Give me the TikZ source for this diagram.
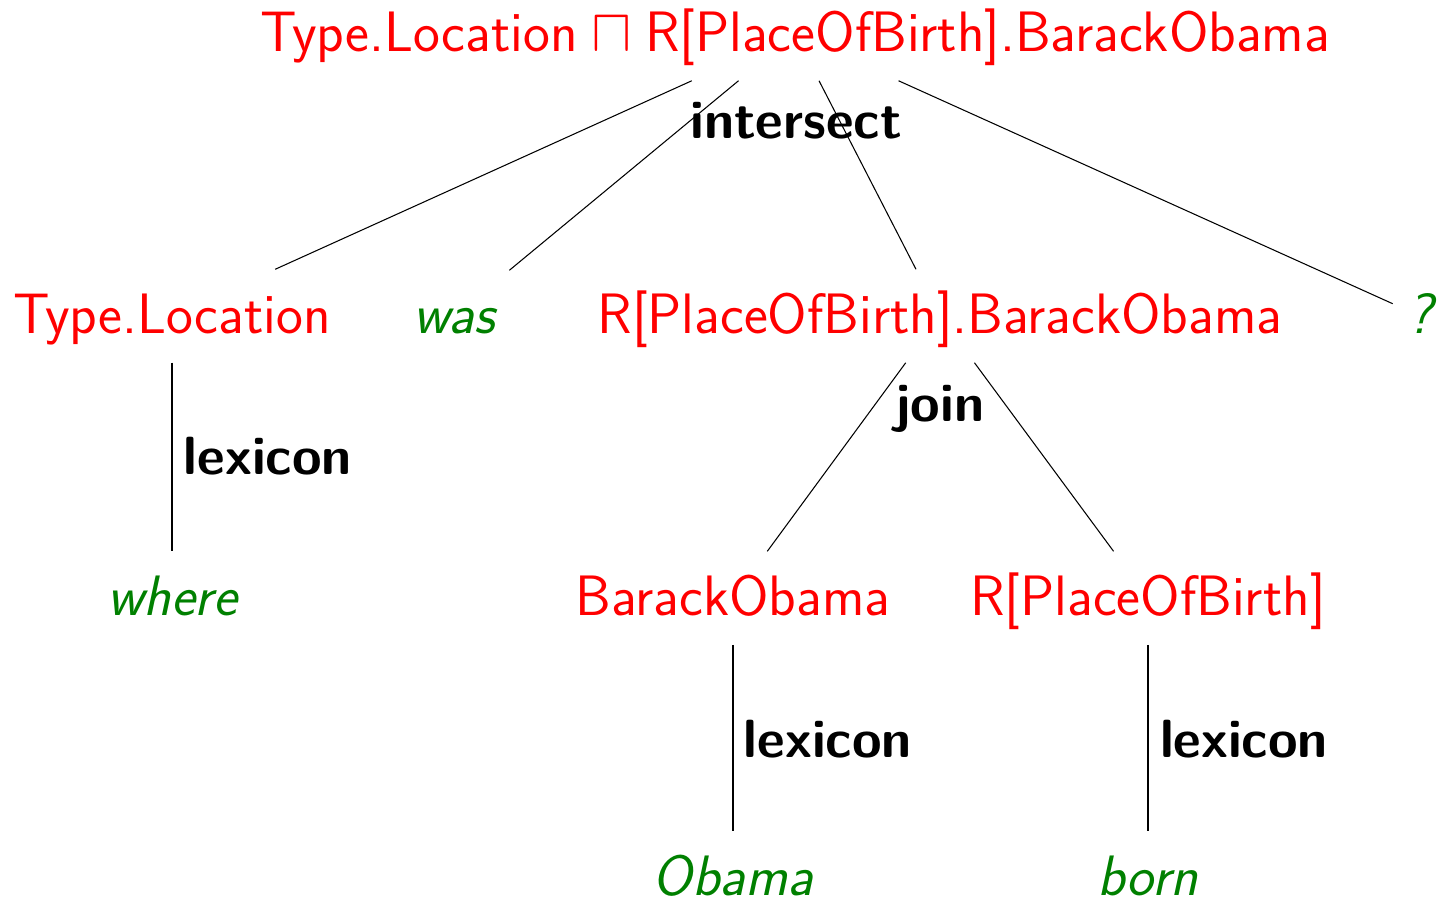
\documentclass[tikz,border=0pt]{standalone}
\usetikzlibrary{positioning}
\definecolor{logicred}{RGB}{255,0,0}
\definecolor{wordgreen}{RGB}{0,128,0}

\begin{document}
\begin{tikzpicture}[
            x=0.01cm, y=-0.01cm,
            formula/.style={font=\sffamily\fontsize{16.2}{19}\selectfont, text=logicred, text height=13pt, text depth=3pt, minimum height=0.92cm, inner xsep=0.14cm},
            word/.style={font=\sffamily\itshape\fontsize{16.2}{19}\selectfont, text=wordgreen, text height=13pt, text depth=3pt, minimum height=0.92cm, inner xsep=0.14cm},
            rulename/.style={font=\sffamily\bfseries\fontsize{15.3}{18}\selectfont, text height=13pt, text depth=3pt},
            link/.style={draw, line width=0.3pt}
            ]
            \useasboundingbox (0,0) rectangle (1437,902);

            % Root formula
            \node[formula] (root) at (795,34) {Type.Location${}\sqcap{}$R[PlaceOfBirth].BarackObama};
            \node[rulename] (intersect) at (796,121) {intersect};

            % Second level
            \node[formula] (location) at (172,316) {Type.Location};
            \node[word] (was) at (454,316) {was};
            \node[formula] (birthobama) at (940,316) {R[PlaceOfBirth].BarackObama};
            \node[word] (qmark) at (1420,316) {?};
            \node[rulename] (join) at (940,404) {join};

            % Third level
            \node[word] (where) at (172,598) {where};
            \node[formula] (obama) at (733,598) {BarackObama};
            \node[formula] (birth) at (1148,598) {R[PlaceOfBirth]};

            % Words
            \node[word] (obamaword) at (733,878) {Obama};
            \node[word] (born) at (1148,878) {born};

            % Rule labels
            \node[rulename] (lexa) at (268,457) {lexicon};
            \node[rulename] (lexb) at (828,740) {lexicon};
            \node[rulename] (lexc) at (1244,740) {lexicon};

            % Edges
            \draw[link] (root) -- (location);
            \draw[link] (root) -- (was);
            \draw[link] (root) -- (birthobama);
            \draw[link] (root) -- (qmark);
            \draw[link] (birthobama) -- (obama);
            \draw[link] (birthobama) -- (birth);
            \draw[link] (location) -- (where);
            \draw[link] (obama) -- (obamaword);
            \draw[link] (birth) -- (born);

        \end{tikzpicture}
\end{document}
